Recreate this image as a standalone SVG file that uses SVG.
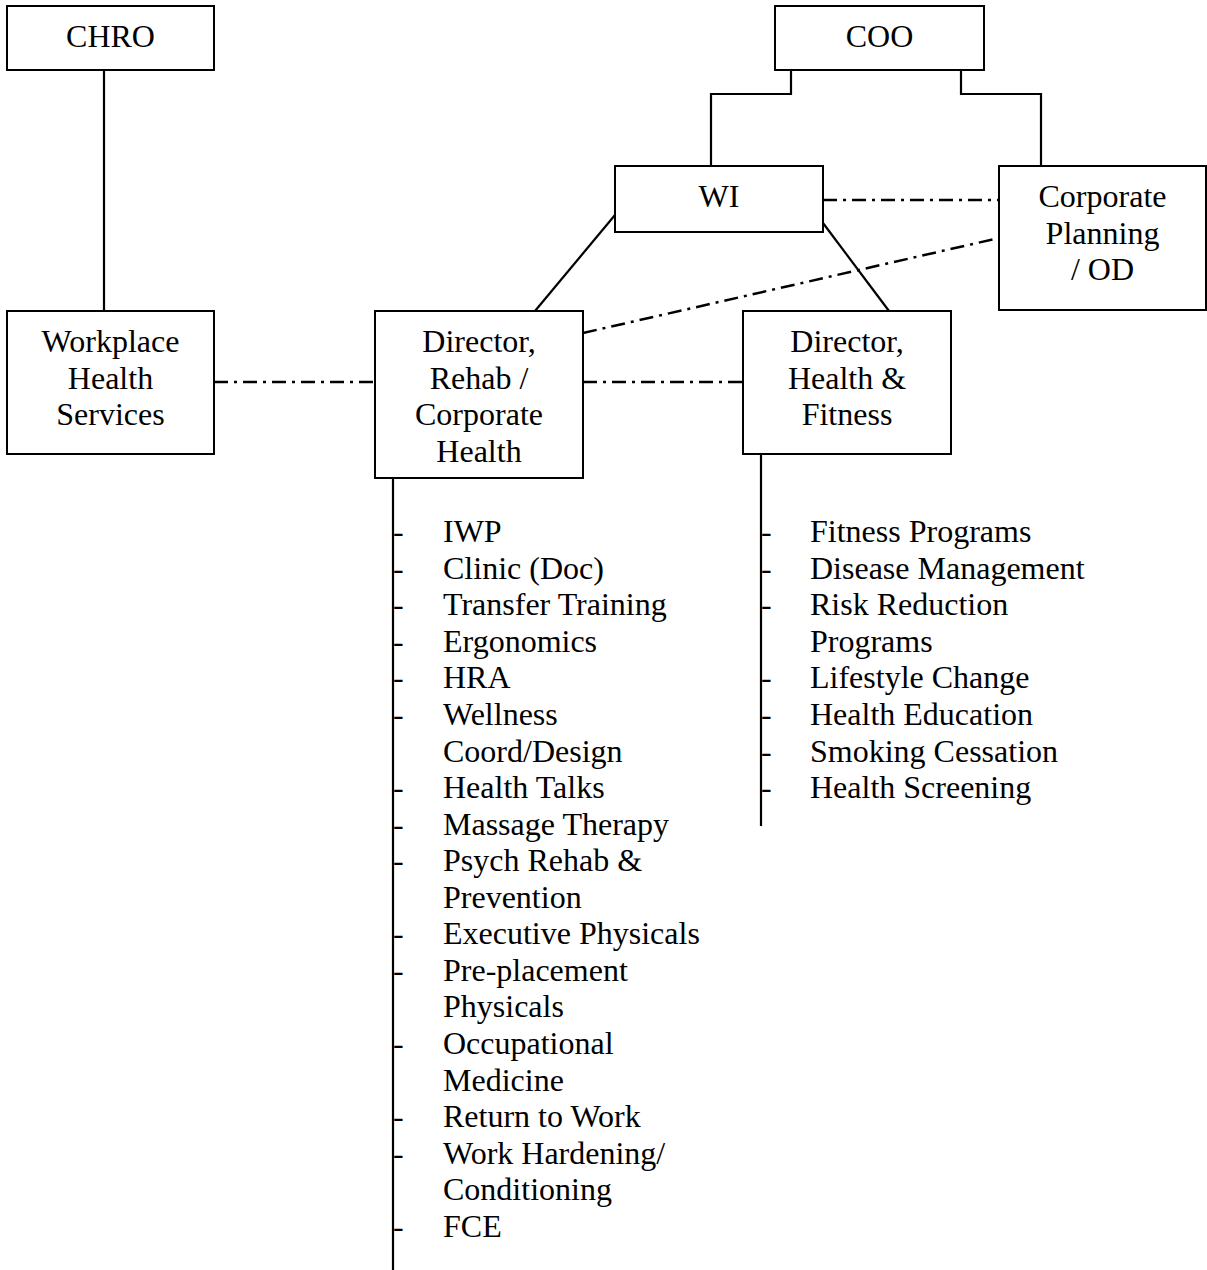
<svg xmlns="http://www.w3.org/2000/svg" width="1207" height="1270" viewBox="0 0 1207 1270">
<style>
.box{fill:#fff;stroke:#000;stroke-width:2}
.ln{fill:none;stroke:#000;stroke-width:2.2}
.dd{fill:none;stroke:#000;stroke-width:2.5;stroke-dasharray:14 6 3 6}
text{font-family:"Liberation Serif","Times New Roman",serif;font-size:32px;fill:#000}
.c{text-anchor:middle}
</style>
<rect width="1207" height="1270" fill="#fff"/>
<g id="connectors">
<path class="ln" d="M104 70V311"/>
<path class="ln" d="M791 70V94H711V166"/>
<path class="ln" d="M961 70V94H1041V166"/>
<path class="ln" d="M615 215L535 311"/>
<path class="ln" d="M823 223L889 311"/>
<path class="ln" d="M393 478V1270"/>
<path class="ln" d="M761 454V826"/>
<path class="dd" d="M214 382H375"/>
<path class="dd" d="M583 382H743"/>
<path class="dd" d="M823 200H999"/>
<path class="dd" d="M583 333L999 238"/>
</g>
<g id="chro"><rect class="box" x="7" y="6" width="207" height="64"/><text class="c" x="110.5" y="47">CHRO</text></g>
<g id="coo"><rect class="box" x="775" y="6" width="209" height="64"/><text class="c" x="879.5" y="47">COO</text></g>
<g id="wi"><rect class="box" x="615" y="166" width="208" height="66"/><text class="c" x="719" y="207">WI</text></g>
<g id="cp"><rect class="box" x="999" y="166" width="207" height="144"/><text class="c" x="1102.5" y="207">Corporate</text><text class="c" x="1102.5" y="244">Planning</text><text class="c" x="1102.5" y="280">/ OD</text></g>
<g id="whs"><rect class="box" x="7" y="311" width="207" height="143"/><text class="c" x="110.5" y="352">Workplace</text><text class="c" x="110.5" y="389">Health</text><text class="c" x="110.5" y="425">Services</text></g>
<g id="dir-rehab"><rect class="box" x="375" y="311" width="208" height="167"/><text class="c" x="479" y="352">Director,</text><text class="c" x="479" y="389">Rehab /</text><text class="c" x="479" y="425">Corporate</text><text class="c" x="479" y="462">Health</text></g>
<g id="dir-hf"><rect class="box" x="743" y="311" width="208" height="143"/><text class="c" x="847" y="352">Director,</text><text class="c" x="847" y="389">Health &amp;</text><text class="c" x="847" y="425">Fitness</text></g>
<g id="rehab-list">
<text x="393" y="542">-</text><text x="443" y="542">IWP</text>
<text x="393" y="578.5">-</text><text x="443" y="578.5">Clinic (Doc)</text>
<text x="393" y="615">-</text><text x="443" y="615">Transfer Training</text>
<text x="393" y="651.5">-</text><text x="443" y="651.5">Ergonomics</text>
<text x="393" y="688">-</text><text x="443" y="688">HRA</text>
<text x="393" y="725">-</text><text x="443" y="725">Wellness</text>
<text x="443" y="761.5">Coord/Design</text>
<text x="393" y="798">-</text><text x="443" y="798">Health Talks</text>
<text x="393" y="834.5">-</text><text x="443" y="834.5">Massage Therapy</text>
<text x="393" y="871">-</text><text x="443" y="871">Psych Rehab &amp;</text>
<text x="443" y="907.5">Prevention</text>
<text x="393" y="944">-</text><text x="443" y="944">Executive Physicals</text>
<text x="393" y="980.5">-</text><text x="443" y="980.5">Pre-placement</text>
<text x="443" y="1017">Physicals</text>
<text x="393" y="1054">-</text><text x="443" y="1054">Occupational</text>
<text x="443" y="1090.5">Medicine</text>
<text x="393" y="1127">-</text><text x="443" y="1127">Return to Work</text>
<text x="393" y="1163.5">-</text><text x="443" y="1163.5">Work Hardening/</text>
<text x="443" y="1200">Conditioning</text>
<text x="393" y="1236.5">-</text><text x="443" y="1236.5">FCE</text>
</g>
<g id="hf-list">
<text x="761" y="542">-</text><text x="810" y="542">Fitness Programs</text>
<text x="761" y="578.5">-</text><text x="810" y="578.5">Disease Management</text>
<text x="761" y="615">-</text><text x="810" y="615">Risk Reduction</text>
<text x="810" y="651.5">Programs</text>
<text x="761" y="688">-</text><text x="810" y="688">Lifestyle Change</text>
<text x="761" y="725">-</text><text x="810" y="725">Health Education</text>
<text x="761" y="761.5">-</text><text x="810" y="761.5">Smoking Cessation</text>
<text x="761" y="798">-</text><text x="810" y="798">Health Screening</text>
</g>
</svg>
